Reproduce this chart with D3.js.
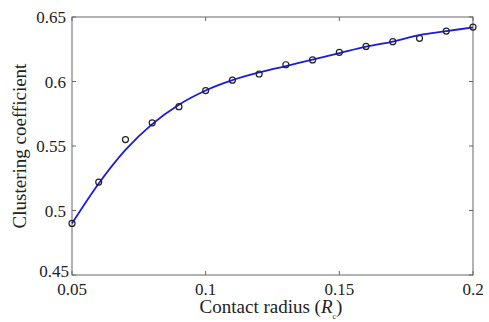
<!DOCTYPE html>
<html>
<head>
<meta charset="utf-8">
<script src="https://cdn.jsdelivr.net/npm/d3@7"></script>
<style>
  body { margin: 0; background: #fff; }
</style>
</head>
<body>
<div id="root"></div>
<script>
// measured circles
var radius = [0.05, 0.06, 0.07, 0.08, 0.09, 0.10, 0.11, 0.12, 0.13, 0.14, 0.15, 0.16, 0.17, 0.18, 0.19, 0.20];
var clustering = [0.490, 0.522, 0.555, 0.568, 0.5805, 0.593, 0.601, 0.6058, 0.613, 0.6167, 0.6226, 0.6272, 0.6309, 0.6335, 0.6391, 0.6422];

// fitted curve
var fitX = [0.05, 0.06, 0.07, 0.08, 0.09, 0.10, 0.11, 0.12, 0.13, 0.14, 0.15, 0.16, 0.17, 0.18, 0.19, 0.20];
var fitY = [0.490, 0.521, 0.547, 0.567, 0.582, 0.593, 0.601, 0.607, 0.612, 0.617, 0.622, 0.627, 0.631, 0.636, 0.639, 0.642];

var xTicks = [0.05, 0.1, 0.15, 0.2];
var yTicks = [0.45, 0.5, 0.55, 0.6, 0.65];

var w = 489, h = 322;
var plotL = 72, plotR = 473, plotT = 17, plotB = 275;
var serif = '"Liberation Serif", "DejaVu Serif", "Times New Roman", serif';

var svg = d3.select('#root')
  .append('svg')
    .attr('width', w)
    .attr('height', h)
    .attr('font-family', serif);

var x = d3.scaleLinear().domain([0.05, 0.2]).range([plotL, plotR]);
var y = d3.scaleLinear().domain([0.45, 0.65]).range([plotB, plotT]);

var axisColor = '#666';
var textColor = '#222';

// frame
svg.append('rect')
    .attr('x', plotL)
    .attr('y', plotT)
    .attr('width', plotR - plotL)
    .attr('height', plotB - plotT)
    .attr('fill', 'none')
    .attr('stroke', axisColor)
    .attr('stroke-width', 1);

// inward ticks on all four sides
var tickLen = 4;
xTicks.forEach(function (t) {
  svg.append('line').attr('x1', x(t)).attr('x2', x(t))
      .attr('y1', plotB).attr('y2', plotB - tickLen)
      .attr('stroke', axisColor);
  svg.append('line').attr('x1', x(t)).attr('x2', x(t))
      .attr('y1', plotT).attr('y2', plotT + tickLen)
      .attr('stroke', axisColor);
  svg.append('text')
      .attr('x', x(t))
      .attr('y', plotB + 20)
      .attr('text-anchor', 'middle')
      .attr('font-size', 17)
      .attr('fill', textColor)
      .text(t);
});

yTicks.forEach(function (t) {
  svg.append('line').attr('x1', plotL).attr('x2', plotL + tickLen)
      .attr('y1', y(t)).attr('y2', y(t))
      .attr('stroke', axisColor);
  svg.append('line').attr('x1', plotR).attr('x2', plotR - tickLen)
      .attr('y1', y(t)).attr('y2', y(t))
      .attr('stroke', axisColor);
  svg.append('text')
      .attr('x', plotL - (t === 0.45 ? 3 : 6))
      .attr('y', y(t) + (t === 0.45 ? 2 : 6))
      .attr('text-anchor', 'end')
      .attr('font-size', 17)
      .attr('fill', textColor)
      .text(t);
});

// fitted line
var line = d3.line()
    .x(function (d) { return x(d[0]); })
    .y(function (d) { return y(d[1]); })
    .curve(d3.curveMonotoneX);

svg.append('path')
    .datum(d3.zip(fitX, fitY))
    .attr('d', line)
    .attr('fill', 'none')
    .attr('stroke', '#1a1ae6')
    .attr('stroke-width', 1.8);

// data markers
svg.selectAll('.pt')
    .data(d3.zip(radius, clustering))
  .enter().append('circle')
    .attr('class', 'pt')
    .attr('cx', function (d) { return x(d[0]); })
    .attr('cy', function (d) { return y(d[1]); })
    .attr('r', 3)
    .attr('fill', 'none')
    .attr('stroke', '#222')
    .attr('stroke-width', 1.2);

// axis labels
var xl = svg.append('text')
    .attr('x', 271)
    .attr('y', 313)
    .attr('text-anchor', 'middle')
    .attr('font-size', 19)
    .attr('fill', textColor);
xl.append('tspan').text('Contact radius (');
xl.append('tspan').attr('font-style', 'italic').text('R');
xl.append('tspan').attr('font-size', 8).attr('dy', 6).text('c');
xl.append('tspan').attr('dy', -6).text(')');

svg.append('text')
    .attr('transform', 'translate(26,' + ((plotT + plotB) / 2) + ') rotate(-90)')
    .attr('text-anchor', 'middle')
    .attr('font-size', 19)
    .attr('fill', textColor)
    .text('Clustering coefficient');
</script>
</body>
</html>
